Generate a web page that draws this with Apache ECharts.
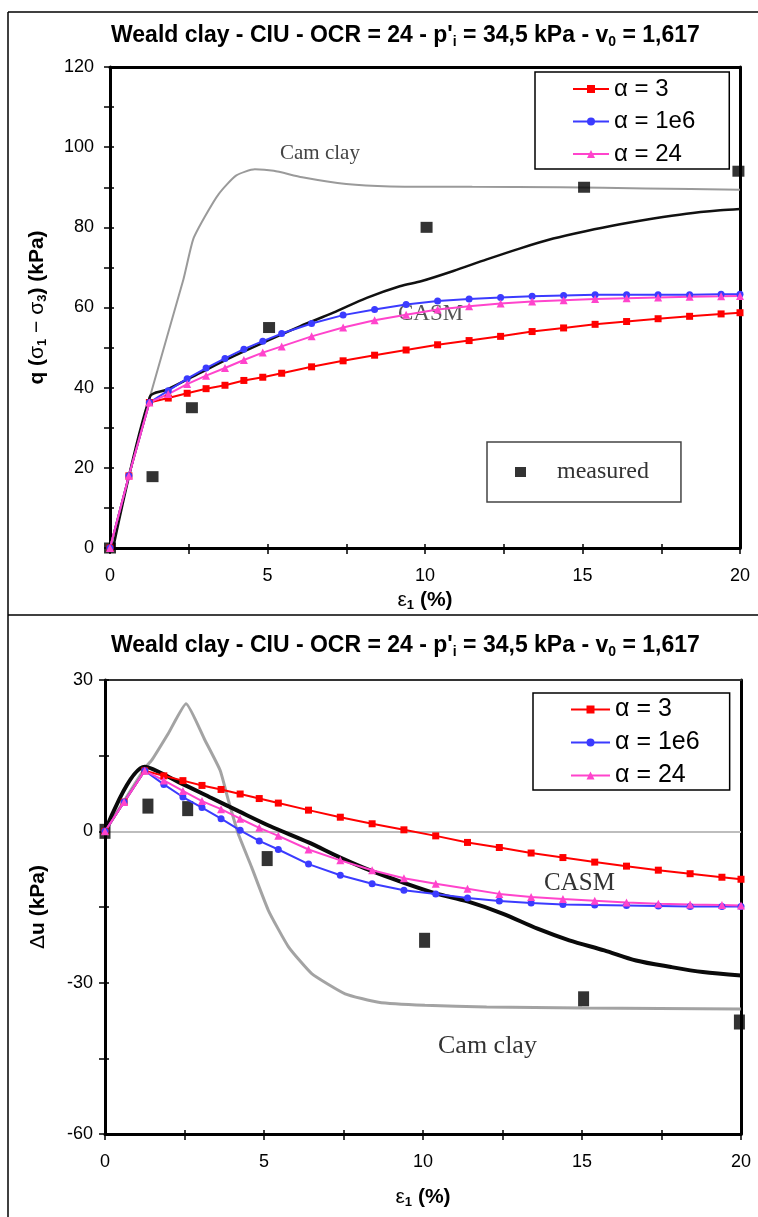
<!DOCTYPE html>
<html>
<head>
<meta charset="utf-8">
<script src="https://cdn.jsdelivr.net/npm/echarts@6/dist/echarts.min.js"></script>
<style>
html,body{margin:0;padding:0;background:#fff;}
#chart{width:758px;height:1217px;}
</style>
</head>
<body>
<div id="chart"></div>
<script>
// ---------- DATA ----------
// strain values of the model points (%)
const epsModel = [0,0.6,1.25,1.85,2.45,3.05,3.65,4.25,4.85,5.45,6.4,7.4,8.4,9.4,10.4,11.4,12.4,13.4,14.4,15.4,16.4,17.4,18.4,19.4,20];

// Top panel: q (kPa)
const qAlpha3   = [0,18,36.3,37.4,38.6,39.75,40.6,41.8,42.6,43.6,45.2,46.7,48.1,49.4,50.7,51.75,52.8,54.0,54.9,55.8,56.5,57.2,57.8,58.4,58.7];
const qAlpha1e6 = [0,18,36.3,39.25,42.25,44.9,47.3,49.6,51.6,53.5,56.0,58.1,59.5,60.75,61.6,62.1,62.5,62.8,63.0,63.2,63.2,63.2,63.2,63.3,63.3];
const qAlpha24  = [0,18,36.3,38.4,40.9,43.0,44.9,46.9,48.75,50.3,52.8,55.0,56.8,58.2,59.5,60.3,61.0,61.5,61.8,62.1,62.3,62.5,62.7,62.8,62.9];

const camQx  = [0,1.27,2.33,2.64,3.0,3.45,4.0,4.6,5.2,6.1,7.5,8.9,11.5,14.3,17,20];
const camQy  = [0,37.8,67,77,82.5,88.3,92.9,94.5,94.1,92.5,90.8,90.2,90.1,90.0,89.7,89.4];
const casmQx = [0.1,1.27,1.8,2.86,3.91,4.97,6.03,7.09,8.15,9.2,9.9,10.9,11.96,13.0,14.07,15.13,16.19,17.25,18.3,19.37,20];
const casmQy = [0,37.8,39.5,43.7,47.8,51.6,55.3,58.7,62.4,65.3,66.6,69.1,72,74.7,77.2,79.1,80.75,82.2,83.4,84.25,84.6];
const measQx = [0,1.35,2.6,5.05,10.05,15.05,19.95];
const measQy = [0,17.8,35,55,80,90,94];

// Bottom panel: Δu (kPa)
const uAlpha3   = [0,5.8,12.0,11.0,10.05,9.1,8.3,7.4,6.5,5.6,4.2,2.8,1.5,0.3,-0.9,-2.2,-3.2,-4.3,-5.2,-6.1,-6.9,-7.7,-8.4,-9.1,-9.5];
const uAlpha1e6 = [0,5.8,12.0,9.3,6.8,4.7,2.5,0.2,-1.9,-3.6,-6.5,-8.7,-10.4,-11.7,-12.4,-13.2,-13.8,-14.2,-14.5,-14.6,-14.7,-14.8,-14.9,-14.9,-14.9];
const uAlpha24  = [0,5.8,12.0,10.1,8.0,6.0,4.4,2.5,0.7,-0.9,-3.6,-5.75,-7.7,-9.3,-10.4,-11.4,-12.4,-13.0,-13.4,-13.75,-14.1,-14.35,-14.5,-14.6,-14.7];

const camUx  = [0,1.25,1.47,1.99,2.55,3.14,3.62,3.88,4.19,4.61,5.14,5.77,6.5,7.55,8.6,10.06,12,15,20];
const camUy  = [0,12.5,14.1,19.4,25.3,18.1,12.1,6.15,-0.5,-7.1,-15.7,-22.9,-28.2,-32.2,-33.9,-34.5,-34.8,-35.0,-35.2];
const casmUx = [0,1.25,2.3,3.35,4.2,5.2,6.4,7.4,8.4,9.4,10.4,11.4,12.5,13.6,14.6,15.7,16.7,17.8,18.8,20];
const casmUy = [0,12.8,9.8,6.6,4.0,1.0,-2.2,-5.2,-7.9,-10.2,-12.3,-13.9,-16.3,-19.3,-21.6,-23.6,-25.6,-26.9,-27.9,-28.6];
const measUx = [0,1.35,2.6,5.1,10.05,15.05,19.95];
const measUy = [0,5.0,4.5,-5.4,-21.6,-33.2,-37.8];

const seriesNames = ['α = 3', 'α = 1e6', 'α = 24'];
const measuredName = 'measured';
const titleText = "{b|Weald clay - CIU - OCR = 24 - p'}{s|i}{b| = 34,5 kPa - v}{s|0}{b| = 1,617}";

// ---------- HELPERS ----------
const zip = (xs, ys) => xs.map((x, i) => [x, ys[i]]);
const FONT = 'Liberation Sans, Arial, sans-serif';
const SERIF = 'Liberation Serif, Times New Roman, serif';
const colors = ['#ff0000', '#3b3bff', '#ff44cc'];
const symbols = ['rect', 'circle', 'triangle'];
const symSizes = [7, 7, 8];

const titleRich = {
  b: {fontFamily: FONT, fontSize: 23, fontWeight: 'bold', color: '#000'},
  s: {fontFamily: FONT, fontSize: 14, fontWeight: 'bold', color: '#000', padding: [12, 0, 0, 0]}
};
const nameRich = {
  b: {fontFamily: FONT, fontSize: 21, fontWeight: 'bold', color: '#000'},
  g: {fontFamily: FONT, fontSize: 21, color: '#000'},
  s: {fontFamily: FONT, fontSize: 13, fontWeight: 'bold', color: '#000', padding: [10, 0, 0, 0]}
};

function mainX(gridIndex, nameGap) {
  return {
    type: 'value', gridIndex, min: 0, max: 20, interval: 2.5, position: 'bottom',
    axisLine: {show: true, onZero: false, lineStyle: {color: '#000', width: 3}},
    axisTick: {show: true, length: 6, lineStyle: {color: '#000', width: 1.5}},
    axisLabel: {formatter: v => (v % 5 === 0 ? String(v) : ''), fontFamily: FONT, fontSize: 18, color: '#000', margin: 19},
    splitLine: {show: false},
    name: '{g|ε}{s|1}{b| (%)}', nameLocation: 'middle', nameGap,
    nameTextStyle: {rich: nameRich}
  };
}
function innerTickX(gridIndex) {
  return {type: 'value', gridIndex, min: 0, max: 20, interval: 2.5, position: 'bottom',
    axisLine: {show: false, onZero: false}, axisLabel: {show: false}, splitLine: {show: false},
    axisTick: {show: true, inside: true, length: 4, lineStyle: {color: '#000', width: 1.5}}};
}
function innerTickY(gridIndex, min, max, interval) {
  return {type: 'value', gridIndex, min, max, interval, position: 'left',
    axisLine: {show: false, onZero: false}, axisLabel: {show: false}, splitLine: {show: false},
    axisTick: {show: true, inside: true, length: 4, lineStyle: {color: '#000', width: 1.5}}};
}
function frameX(gridIndex, color, width) {
  return {type: 'value', gridIndex, min: 0, max: 20, position: 'top',
    axisLine: {show: true, onZero: false, lineStyle: {color, width}},
    axisTick: {show: false}, axisLabel: {show: false}, splitLine: {show: false}};
}
function frameY(gridIndex, min, max) {
  return {type: 'value', gridIndex, min, max, position: 'right',
    axisLine: {show: true, onZero: false, lineStyle: {color: '#000', width: 3}},
    axisTick: {show: false}, axisLabel: {show: false}, splitLine: {show: false}};
}

function alphaSeries(values, xi, yi) {
  return values.map((vals, k) => ({
    name: seriesNames[k], type: 'line', xAxisIndex: xi, yAxisIndex: yi,
    data: zip(epsModel, vals), z: 5,
    symbol: symbols[k], symbolSize: symSizes[k], showSymbol: true,
    lineStyle: {color: colors[k], width: 2}, itemStyle: {color: colors[k]}
  }));
}

const chart = echarts.init(document.getElementById('chart'), null, {renderer: 'canvas'});
const option = {
  animation: false,
  backgroundColor: '#fff',
  title: [
    {text: titleText, left: 106, top: 18, textStyle: {rich: titleRich}},
    {text: titleText, left: 106, top: 628, textStyle: {rich: titleRich}}
  ],
  grid: [
    {left: 110, right: 18, top: 67, height: 481},
    {left: 105, right: 17, top: 680, height: 454}
  ],
  legend: [
    {
      data: seriesNames, left: 535, top: 72, orient: 'vertical',
      padding: [5, 34, 3, 37], itemGap: 8.5, itemWidth: 36, itemHeight: 10,
      textStyle: {fontFamily: FONT, fontSize: 24, color: '#000', lineHeight: 24},
      borderColor: '#000', borderWidth: 1.5, backgroundColor: '#fff', selectedMode: false
    },
    {
      data: seriesNames, left: 533, top: 693, orient: 'vertical',
      padding: [4, 30, 2, 37], itemGap: 8, itemWidth: 39, itemHeight: 10,
      textStyle: {fontFamily: FONT, fontSize: 25, color: '#000', lineHeight: 24},
      borderColor: '#000', borderWidth: 1.5, backgroundColor: '#fff', selectedMode: false
    },
    {
      data: [{name: measuredName, icon: 'rect'}], left: 487, top: 442,
      padding: [18, 32, 18, 28], itemWidth: 11, itemHeight: 10,
      textStyle: {fontFamily: SERIF, fontSize: 24, color: '#333', lineHeight: 24, padding: [0, 0, 0, 26]},
      borderColor: '#444', borderWidth: 1.5, backgroundColor: '#fff', selectedMode: false
    }
  ],
  xAxis: [
    mainX(0, 41),
    frameX(0, '#000', 3),
    mainX(1, 52),
    frameX(1, '#333', 2),
    innerTickX(0),
    innerTickX(1)
  ],
  yAxis: [
    {
      type: 'value', gridIndex: 0, min: 0, max: 120, interval: 10,
      axisLine: {show: true, onZero: false, lineStyle: {color: '#000', width: 3}},
      axisTick: {show: true, length: 6, lineStyle: {color: '#000', width: 1.5}},
      axisLabel: {formatter: v => (v % 20 === 0 ? String(v) : ''), fontFamily: FONT, fontSize: 18, color: '#000', margin: 16},
      splitLine: {show: false},
      name: '{b|q (}{g|σ}{s|1}{g| − σ}{s|3}{b|) (kPa)}', nameLocation: 'middle', nameRotate: 90, nameGap: 61,
      nameTextStyle: {rich: nameRich}
    },
    frameY(0, 0, 120),
    {
      type: 'value', gridIndex: 1, min: -60, max: 30, interval: 15,
      axisLine: {show: true, onZero: false, lineStyle: {color: '#000', width: 3}},
      axisTick: {show: true, length: 6, lineStyle: {color: '#000', width: 1.5}},
      axisLabel: {formatter: v => (v % 30 === 0 ? String(v) : ''), fontFamily: FONT, fontSize: 18, color: '#000', margin: 12},
      splitLine: {show: false},
      name: '{g|Δ}{b|u (kPa)}', nameLocation: 'middle', nameRotate: 90, nameGap: 56,
      nameTextStyle: {rich: nameRich}
    },
    frameY(1, -60, 30),
    innerTickY(0, 0, 120, 10),
    innerTickY(1, -60, 30, 15)
  ],
  series: [
    // ----- top panel -----
    {name: 'Cam clay q', type: 'line', xAxisIndex: 0, yAxisIndex: 0, data: zip(camQx, camQy),
      showSymbol: false, smooth: 0.2, lineStyle: {color: '#9a9a9a', width: 2}, z: 2},
    {name: 'CASM q', type: 'line', xAxisIndex: 0, yAxisIndex: 0, data: zip(casmQx, casmQy),
      showSymbol: false, smooth: 0.3, lineStyle: {color: '#111', width: 2.5}, z: 2},
    {name: measuredName, type: 'scatter', xAxisIndex: 0, yAxisIndex: 0, data: zip(measQx, measQy),
      symbol: 'rect', symbolSize: [12, 11], itemStyle: {color: '#000'}, z: 3},
    ...alphaSeries([qAlpha3, qAlpha1e6, qAlpha24], 0, 0),
    // ----- bottom panel -----
    {name: 'Cam clay u', type: 'line', xAxisIndex: 2, yAxisIndex: 2, data: zip(camUx, camUy),
      showSymbol: false, smooth: 0.15, lineStyle: {color: '#999', width: 3, opacity: 0.9}, z: 2,
      markLine: {silent: true, symbol: 'none', z: 1, label: {show: false},
        lineStyle: {color: '#bdbdbd', width: 2, type: 'solid'}, data: [{yAxis: 0}]}},
    {name: 'CASM u', type: 'line', xAxisIndex: 2, yAxisIndex: 2, data: zip(casmUx, casmUy),
      showSymbol: false, smooth: 0.3, lineStyle: {color: '#0a0a0a', width: 4}, z: 2},
    {name: measuredName, type: 'scatter', xAxisIndex: 2, yAxisIndex: 2, data: zip(measUx, measUy),
      symbol: 'rect', symbolSize: [11, 15], itemStyle: {color: '#000'}, z: 3},
    ...alphaSeries([uAlpha3, uAlpha1e6, uAlpha24], 2, 2)
  ],
  graphic: [
    // figure frame lines
    {type: 'line', shape: {x1: 8, y1: 12, x2: 758, y2: 12}, style: {stroke: '#000', lineWidth: 1.5}},
    {type: 'line', shape: {x1: 8, y1: 12, x2: 8, y2: 1217}, style: {stroke: '#000', lineWidth: 1.5}},
    {type: 'line', shape: {x1: 8, y1: 615, x2: 758, y2: 615}, style: {stroke: '#000', lineWidth: 1.5}},
    // scanned-figure annotations
    {type: 'text', left: 280, top: 143, z: 1, style: {text: 'Cam clay', font: '21px ' + SERIF, fill: '#444'}},
    {type: 'text', left: 398, top: 302, z: 1, style: {text: 'CASM', font: '23px ' + SERIF, fill: '#555'}},
    {type: 'text', left: 544, top: 871, z: 1, style: {text: 'CASM', font: '25px ' + SERIF, fill: '#333'}},
    {type: 'text', left: 438, top: 1033, z: 1, style: {text: 'Cam clay', font: '26px ' + SERIF, fill: '#333'}}
  ]
};
chart.setOption(option);
</script>
</body>
</html>
